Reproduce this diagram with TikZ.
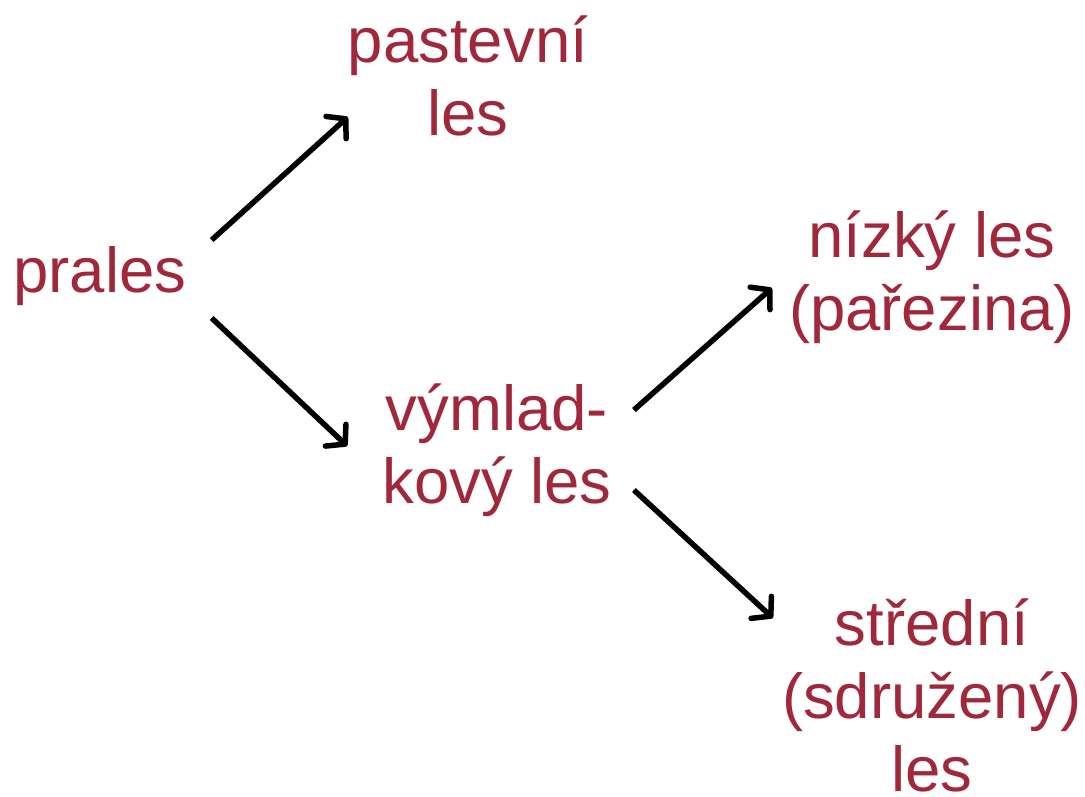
\documentclass[tikz,border=0pt]{standalone}
\usepackage{fontspec}
\setmainfont{Liberation Sans}
\usetikzlibrary{arrows.meta,calc}
\definecolor{wine}{HTML}{A0283A}
\begin{document}
\begin{tikzpicture}[x=1pt,y=-1pt,
  lbl/.style={text=wine,align=center,inner sep=0pt,font=\fontsize{63.5}{73}\selectfont},
  conn/.style={line width=5.5pt,-{Straight Barb[length=13pt,width=30pt,line width=5.5pt,round]}}]
\useasboundingbox (0,0) rectangle (1085,796);
\node[lbl] (prales) at (100,276) {prales};
\node[lbl] (pastevni) at (468,76) {pastevní\\les};
\node[lbl] (vymlad) at (497,450) {výmlad-\\kový les};
\node[lbl] (nizky) at (932,277) {nízký les\\(pařezina)};
\node[lbl] (stredni) at (932,695) {střední\\(sdružený)\\les};
\draw[conn] ($(prales.east)+(25,-36)$) -- ($(pastevni.west)+(0,41)$);
\draw[conn] ($(prales.east)+(25,42)$) -- ($(vymlad.west)+(-35,-4)$);
\draw[conn] ($(vymlad.east)+(22,-40)$) -- ($(nizky.west)+(-17,11)$);
\draw[conn] ($(vymlad.east)+(22,40)$) -- ($(stredni.west)+(-9,-77)$);
\end{tikzpicture}
\end{document}
